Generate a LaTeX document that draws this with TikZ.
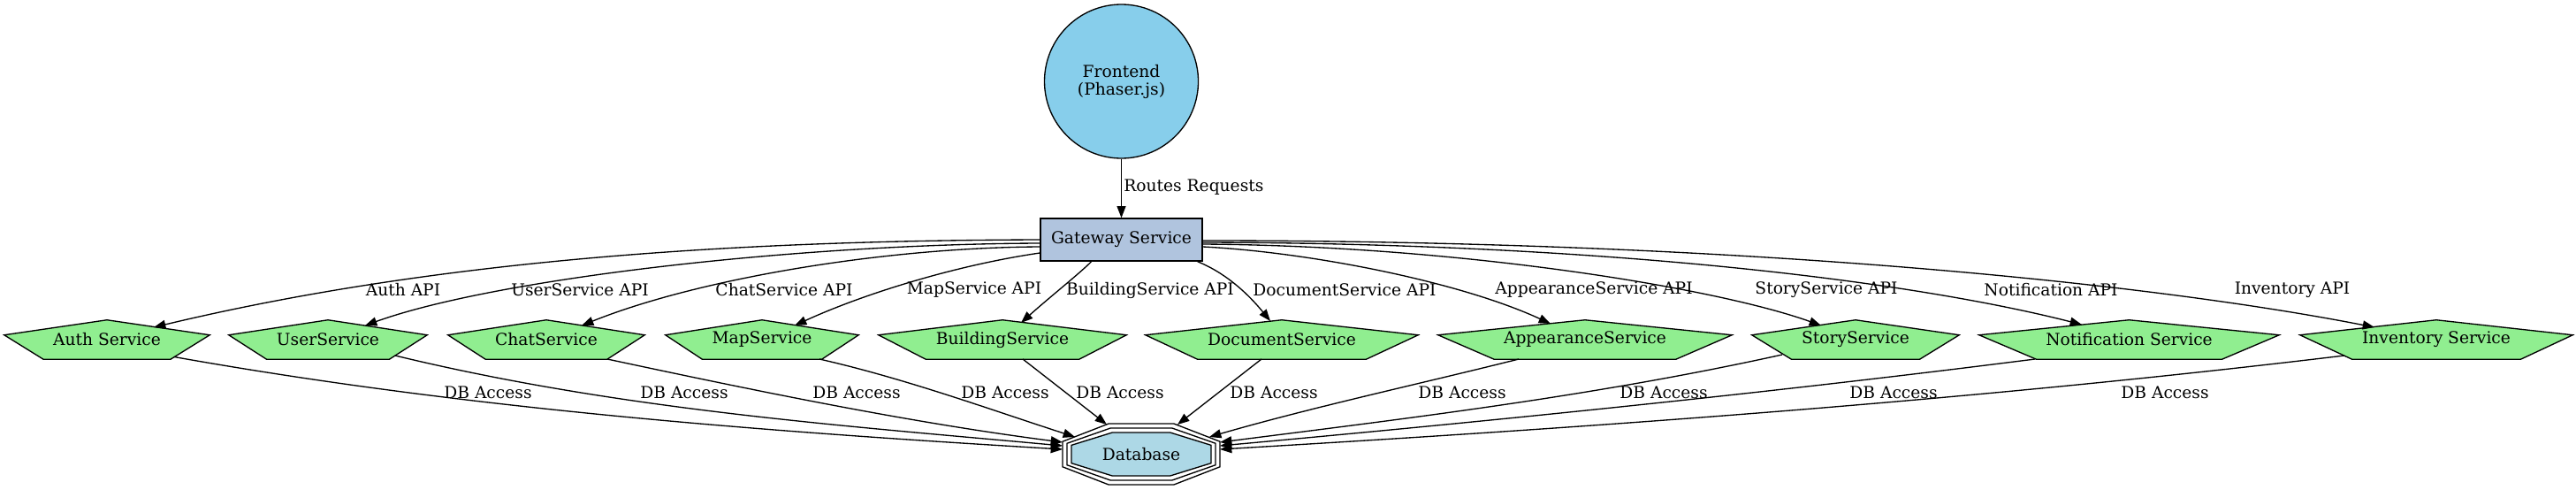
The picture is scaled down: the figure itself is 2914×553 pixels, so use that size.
\documentclass[tikz,border=0pt]{standalone}
\usepackage{fontspec}
\setmainfont{DejaVu Serif}
\usetikzlibrary{arrows.meta,calc,backgrounds}
\definecolor{feblue}{HTML}{87CEEB}
\definecolor{gwblue}{HTML}{B0C4DE}
\definecolor{svcgreen}{HTML}{90EE90}
\definecolor{dbblue}{HTML}{ADD8E6}
\tikzset{
  edge/.style={draw=black, line width=1pt, -{Triangle[length=10pt,width=7.5pt]}},
  lbl/.style={inner sep=0pt},
  svc/.style={inner sep=0pt, minimum height=33pt},
  pentshape/.style={fill=svcgreen, draw=black, line width=1pt, line join=miter},
  octline/.style={draw=black, line width=1pt},
}
\newcommand\svcpent[1]{%
  \draw[pentshape] (#1.north) -- ($(#1.north east)!0.382!(#1.south east)$) -- ($(#1.south east)!0.191!(#1.south west)$) -- ($(#1.south west)!0.191!(#1.south east)$) -- ($(#1.north west)!0.382!(#1.south west)$) -- cycle;}
\newcommand\dboct[3]{%
  \draw[#1] ($(db.center)+(#2,{0.4142*#3})$) -- ($(db.center)+({0.4142*#2},#3)$) -- ($(db.center)+({-0.4142*#2},#3)$) -- ($(db.center)+(-#2,{0.4142*#3})$) -- ($(db.center)+(-#2,{-0.4142*#3})$) -- ($(db.center)+({-0.4142*#2},-#3)$) -- ($(db.center)+({0.4142*#2},-#3)$) -- ($(db.center)+(#2,{-0.4142*#3})$) -- cycle;}
\begin{document}
\begin{tikzpicture}[x=0.75pt,y=-0.75pt,font=\fontsize{14}{15}\selectfont]
\useasboundingbox (0,0) rectangle (2914,553);
% nodes
\node[circle, draw, fill=feblue, minimum size=130.5pt, inner sep=0, align=center, line width=1pt] (fe) at (1268.5,92) {Frontend\\(Phaser.js)};
\node[draw, fill=gwblue, minimum width=137.25pt, minimum height=36pt, inner sep=0, line width=1pt] (gw) at (1268.5,271) {Gateway Service};
\node[svc, minimum width=174pt] (auth) at (121,384) {Auth Service};
\node[svc, minimum width=168pt] (user) at (371,384) {UserService};
\node[svc, minimum width=166.5pt] (chat) at (618,384) {ChatService};
\node[svc, minimum width=163.5pt] (map) at (862,384) {MapService};
\node[svc, minimum width=210pt] (bld) at (1134,384) {BuildingService};
\node[svc, minimum width=231pt] (doc) at (1450,384) {DocumentService};
\node[svc, minimum width=249pt] (app) at (1793,384) {AppearanceService};
\node[svc, minimum width=175.5pt] (story) at (2099,384) {StoryService};
\node[svc, minimum width=254.25pt] (notif) at (2408.5,384) {Notification Service};
\node[svc, minimum width=231pt] (inv) at (2756,384) {Inventory Service};
\node[inner sep=0, minimum width=133.5pt, minimum height=51.75pt] (db) at (1291,513.5) {Database};
\begin{pgfonlayer}{background}
\fill[white] (0,0) rectangle (2914,553);
\svcpent{auth}\svcpent{user}\svcpent{chat}\svcpent{map}\svcpent{bld}
\svcpent{doc}\svcpent{app}\svcpent{story}\svcpent{notif}\svcpent{inv}
\dboct{octline}{89}{34.5}
\dboct{octline}{84}{29.5}
\dboct{octline,fill=dbblue}{79}{24.5}
\end{pgfonlayer}
% connection points on the drawn outlines
\coordinate (auth-in) at (174,370);
\coordinate (user-in) at (413,368);
\coordinate (chat-in) at (658,368);
\coordinate (map-in) at (899,368);
\coordinate (bld-in) at (1155,365);
\coordinate (doc-in) at (1437,363);
\coordinate (app-in) at (1754,366);
\coordinate (story-in) at (2060,368);
\coordinate (notif-in) at (2355,367);
\coordinate (inv-in) at (2686,370);
\coordinate (auth-out) at (197,403.5);
\coordinate (user-out) at (447,402);
\coordinate (chat-out) at (687,406);
\coordinate (map-out) at (927,406);
\coordinate (bld-out) at (1157,406);
\coordinate (doc-out) at (1427,406);
\coordinate (app-out) at (1718,406);
\coordinate (story-out) at (2016,401);
\coordinate (notif-out) at (2302,406);
\coordinate (inv-out) at (2652,402);
\coordinate (db-auth) at (1202,508);
\coordinate (db-user) at (1202,504);
\coordinate (db-chat) at (1202,500);
\coordinate (db-map) at (1216,494);
\coordinate (db-bld) at (1252,480);
\coordinate (db-doc) at (1332,480);
\coordinate (db-app) at (1368,494);
\coordinate (db-story) at (1380,500);
\coordinate (db-notif) at (1380,504);
\coordinate (db-inv) at (1380,508);
% frontend -> gateway
\draw[edge] (fe.south) -- (gw.north);
\node[lbl, anchor=west] (lrr) at (1271,212) {Routes Requests};
% gateway -> services
\draw[edge] (gw.west) .. controls (850,272) and (504,291) .. (auth-in);
\draw[edge] ($(gw.west)+(0,4)$) .. controls (900,276) and (560,315) .. (user-in);
\draw[edge] ($(gw.west)+(0,8)$) .. controls (1000,280) and (790,315) .. (chat-in);
\draw[edge] ($(gw.west)+(0,15)$) .. controls (1080,300) and (975,333) .. (map-in);
\draw[edge] ($(gw.south)+(-34,0)$) .. controls (1225,306) and (1185,338) .. (bld-in);
\draw[edge] ($(gw.south)+(86,0)$) .. controls (1385,308) and (1410,330) .. (doc-in);
\draw[edge] ($(gw.east)+(0,8)$) .. controls (1480,285) and (1650,318) .. (app-in);
\draw[edge] ($(gw.east)+(0,5)$) .. controls (1650,278) and (1940,325) .. (story-in);
\draw[edge] ($(gw.east)+(0,3)$) .. controls (1800,275) and (2150,315) .. (notif-in);
\draw[edge] ($(gw.east)+(0,1)$) .. controls (1950,272) and (2420,318) .. (inv-in);
\node[lbl] (l-auth) at (456,328) {Auth API};
\node[lbl] (l-user) at (656,328) {UserService API};
\node[lbl] (l-chat) at (887,328) {ChatService API};
\node[lbl] (l-map) at (1102,328) {MapService API};
\node[lbl] (l-bld) at (1301,328) {BuildingService API};
\node[lbl] (l-doc) at (1521,328) {DocumentService API};
\node[lbl] (l-app) at (1803,328) {AppearanceService API};
\node[lbl] (l-story) at (2066,328) {StoryService API};
\node[lbl] (l-notif) at (2320,328) {Notification API};
\node[lbl] (l-inv) at (2593,328) {Inventory API};
% services -> database
\draw[edge] (auth-out) .. controls (532,463) and (868,488) .. (db-auth);
\draw[edge] (user-out) .. controls (699,463) and (951,481) .. (db-user);
\draw[edge] (chat-out) .. controls (860,443) and (1031,478) .. (db-chat);
\draw[edge] (map-out) .. controls (1024,428) and (1120,463) .. (db-map);
\draw[edge] (bld-out) -- (db-bld);
\draw[edge] (doc-out) -- (db-doc);
\draw[edge] (app-out) .. controls (1602,435) and (1486,460) .. (db-app);
\draw[edge] (story-out) .. controls (1803,448) and (1592,473) .. (db-story);
\draw[edge] (notif-out) .. controls (1995,445) and (1687,476) .. (db-notif);
\draw[edge] (inv-out) .. controls (2228,453) and (1804,483) .. (db-inv);
\node[lbl] (d-auth) at (552,444) {DB Access};
\node[lbl] (d-user) at (774,444) {DB Access};
\node[lbl] (d-chat) at (969,444) {DB Access};
\node[lbl] (d-map) at (1137,444) {DB Access};
\node[lbl] (d-bld) at (1267,444) {DB Access};
\node[lbl] (d-doc) at (1441,444) {DB Access};
\node[lbl] (d-app) at (1654,444) {DB Access};
\node[lbl] (d-story) at (1882,444) {DB Access};
\node[lbl] (d-notif) at (2142,444) {DB Access};
\node[lbl] (d-inv) at (2449,444) {DB Access};
\end{tikzpicture}
\end{document}
